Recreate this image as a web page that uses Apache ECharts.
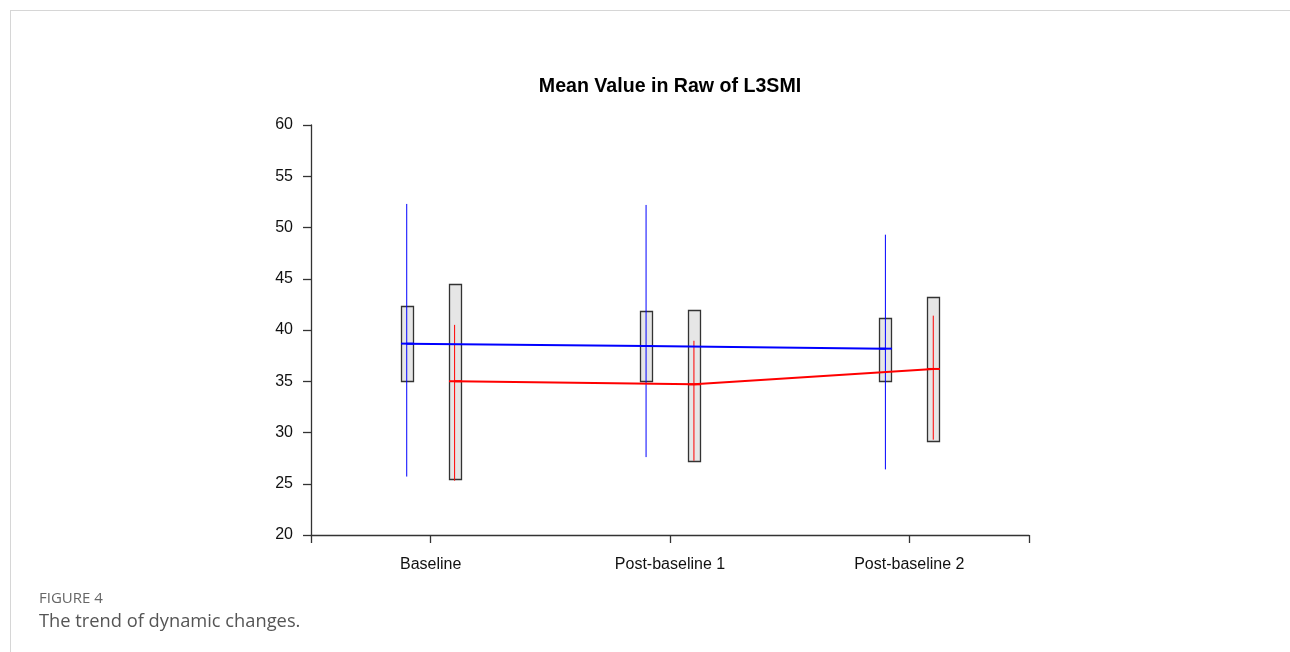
<!DOCTYPE html>
<html>
<head>
<meta charset="utf-8">
<script src="https://cdn.jsdelivr.net/npm/echarts@6/dist/echarts.min.js"></script>
<style>
html,body{margin:0;padding:0;background:#fff;}
#wrap{position:relative;width:1290px;height:652px;overflow:hidden;}
#chart{position:absolute;left:0;top:0;width:1290px;height:652px;}
#topline{position:absolute;left:10px;top:10px;width:1280px;height:1px;background:#d6d6d6;}
#leftline{position:absolute;left:10px;top:10px;width:1px;height:642px;background:#d6d6d6;}
#figlabel{position:absolute;left:39px;top:587px;font-family:"Open Sans",sans-serif;font-size:15px;color:#666;}
#caption{position:absolute;left:39px;top:607px;font-family:"Open Sans",sans-serif;font-size:18.3px;color:#555;}
</style>
</head>
<body>
<div id="wrap">
<div id="topline"></div>
<div id="leftline"></div>
<div id="chart"></div>
<div id="figlabel">FIGURE 4</div>
<div id="caption">The trend of dynamic changes.</div>
</div>
<script>
var categories = ['Baseline', 'Post-baseline 1', 'Post-baseline 2'];
var yTicks = [20, 25, 30, 35, 40, 45, 50, 55, 60];

var blueMean = [38.67, 38.44, 38.18];
var blueBoxLow = [35.0, 35.0, 35.0];
var blueBoxHigh = [42.3, 41.85, 41.2];
var blueLineLow = [25.7, 27.6, 26.4];
var blueLineHigh = [52.3, 52.2, 49.3];

var redMean = [35.0, 34.7, 36.2];
var redBoxLow = [25.5, 27.25, 29.2];
var redBoxHigh = [44.5, 41.95, 43.2];
var redLineLow = [25.3, 27.25, 29.3];
var redLineHigh = [40.5, 38.95, 41.4];

var OFFSET = 0.1;
var BOXW = 12;

function rows(off, lo, hi, mean) {
  return categories.map(function (c, i) {
    return [i + 1 + off, lo[i], hi[i], mean[i]];
  });
}

function rangeData(off, lo, hi) {
  var d = [];
  categories.forEach(function (c, i) {
    d.push([i + 1 + off, lo[i]]);
    d.push([i + 1 + off, hi[i]]);
    d.push([i + 1 + off, '-']);
  });
  return d;
}

function makeRender(color) {
  return function (params, api) {
    var x = api.value(0);
    var pLo = api.coord([x, api.value(1)]);
    var pHi = api.coord([x, api.value(2)]);
    var pm = api.coord([x, api.value(3)]);
    var cx = Math.round(pLo[0]);
    return {
      type: 'group',
      children: [
        {
          type: 'rect', z2: 1,
          shape: { x: cx - BOXW / 2 + 0.5, y: Math.round(pHi[1]) + 0.5, width: BOXW, height: Math.round(pLo[1]) - Math.round(pHi[1]) },
          style: { fill: '#e6e6e6', stroke: '#333333', lineWidth: 1.3 }
        },
        {
          type: 'rect', z2: 3,
          shape: { x: cx - BOXW / 2, y: pm[1] - 1, width: BOXW + 1, height: 2 },
          style: { fill: color, stroke: null }
        }
      ]
    };
  };
}

var chart = echarts.init(document.getElementById('chart'), null, { renderer: 'canvas' });
var font = '"Liberation Sans", Arial, sans-serif';
chart.setOption({
  animation: false,
  graphic: [{
    type: 'text', x: 670, y: 87,
    style: {
      text: 'Mean Value in Raw of L3SMI',
      textAlign: 'center', textVerticalAlign: 'middle',
      font: 'bold 19.6px "Liberation Sans", Arial, sans-serif', fill: '#000'
    }
  }],
  grid: { left: 311, right: 261, top: 125, bottom: 117, containLabel: false },
  xAxis: {
    type: 'value', min: 0.5, max: 3.5,
    splitLine: { show: false },
    axisLine: { show: true, onZero: false, lineStyle: { color: '#333', width: 1.3 } },
    axisTick: { show: true, length: 8, customValues: [0.5, 1, 2, 3, 3.5], lineStyle: { color: '#333', width: 1.3 } },
    axisLabel: {
      customValues: [1, 2, 3], margin: 22,
      fontFamily: font, fontSize: 16, color: '#111',
      formatter: function (v) { return categories[Math.round(v) - 1] || ''; }
    }
  },
  yAxis: {
    type: 'value', min: 20, max: 60, interval: 5,
    splitLine: { show: false },
    axisLine: { show: true, onZero: false, lineStyle: { color: '#333', width: 1.3 } },
    axisTick: { show: true, length: 8, lineStyle: { color: '#333', width: 1.3 } },
    axisLabel: {
      margin: 18, fontFamily: font, fontSize: 16, color: '#111',
      padding: [3, 0, 0, 0],
      formatter: function (v) { return yTicks.indexOf(v) >= 0 ? String(v) : ''; }
    }
  },
  series: [
    {
      type: 'custom', z: 2, renderItem: makeRender('#ff0000'),
      data: rows(OFFSET, redBoxLow, redBoxHigh, redMean),
      encode: { x: 0, y: [1, 2, 3] }
    },
    {
      type: 'custom', z: 2, renderItem: makeRender('#0000ff'),
      data: rows(-OFFSET, blueBoxLow, blueBoxHigh, blueMean),
      encode: { x: 0, y: [1, 2, 3] }
    },
    {
      type: 'line', z: 3, symbol: 'none', connectNulls: false,
      lineStyle: { color: '#ff0000', width: 1 },
      data: rangeData(OFFSET, redLineLow, redLineHigh)
    },
    {
      type: 'line', z: 3, symbol: 'none', connectNulls: false,
      lineStyle: { color: '#0000ff', width: 1 },
      data: rangeData(-OFFSET, blueLineLow, blueLineHigh)
    },
    {
      type: 'line', z: 4, symbol: 'none',
      lineStyle: { color: '#ff0000', width: 2 },
      data: categories.map(function (c, i) { return [i + 1 + OFFSET, redMean[i]]; })
    },
    {
      type: 'line', z: 4, symbol: 'none',
      lineStyle: { color: '#0000ff', width: 2 },
      data: categories.map(function (c, i) { return [i + 1 - OFFSET, blueMean[i]]; })
    }
  ]
});
</script>
</body>
</html>
